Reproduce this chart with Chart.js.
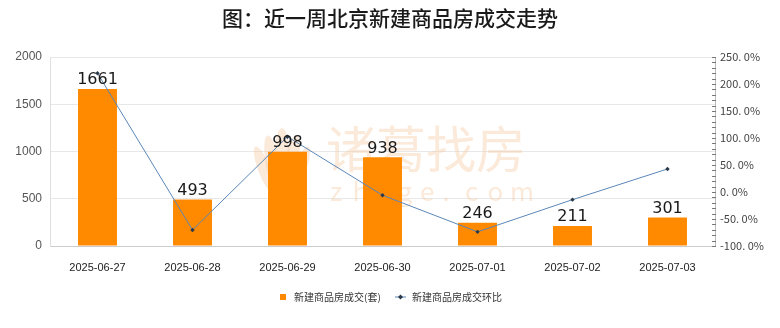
<!DOCTYPE html>
<html>
<head>
<meta charset="utf-8">
<script src="https://cdn.jsdelivr.net/npm/chart.js@4/dist/chart.umd.min.js"></script>
<style>
  html, body { margin: 0; padding: 0; background: #fff; }
  #wrap { width: 780px; height: 328px; }
</style>
</head>
<body>
<div id="wrap"><canvas id="chart" width="780" height="328"></canvas></div>
<script>
const titleText = '图：近一周北京新建商品房成交走势';
const dates = ['2025-06-27', '2025-06-28', '2025-06-29', '2025-06-30', '2025-07-01', '2025-07-02', '2025-07-03'];
const deals = [1661, 493, 998, 938, 246, 211, 301];
const ratio = [220.0, -70.3, 102.4, -6.0, -73.8, -14.2, 42.7];
const dealsLabel = '新建商品房成交(套)';
const ratioLabel = '新建商品房成交环比';

const cjk = '"Noto Sans CJK SC", sans-serif';
const narrow = '"Liberation Sans Narrow", "Liberation Sans", sans-serif';

// watermark, drawn under the bars
const watermark = {
    id: 'watermark',
    beforeDatasetsDraw(chart) {
        const c = chart.ctx;
        c.save();
        c.fillStyle = 'rgba(244, 200, 160, 0.4)';
        // lotus-like logo
        const lx = 282, ly = 165;
        [[-18, 4, 6, 24], [-9, 0, 7, 30], [0, -3, 8, 34], [9, 0, 7, 30], [18, 4, 6, 24]].forEach(p => {
            c.beginPath();
            c.ellipse(lx + p[0], ly + p[1], p[2], p[3], p[0] * 0.02, 0, Math.PI * 2);
            c.fill();
        });
        c.font = '50px ' + cjk;
        c.textAlign = 'left';
        c.textBaseline = 'middle';
        c.fillText('诸葛找房', 326, 149);
        c.font = '26px ' + cjk;
        const letters = 'zhuge.com';
        for (let i = 0; i < letters.length; i++) {
            c.fillText(letters[i], 330 + i * 22.5, 191);
        }
        c.restore();
    }
};

const extras = {
    id: 'extras',
    afterDraw(chart) {
        const c = chart.ctx;
        const y1 = chart.scales.y1;
        const bars = chart.getDatasetMeta(1);
        c.save();

        // title
        c.fillStyle = '#1a1a1a';
        c.font = '500 21px ' + cjk;
        c.textAlign = 'center';
        c.textBaseline = 'middle';
        c.fillText(titleText, 390, 18);

        // minor ticks on the right axis
        c.strokeStyle = '#777';
        c.lineWidth = 1;
        for (let v = -100; v <= 250; v += 10) {
            const py = Math.round(y1.getPixelForValue(v)) + 0.5;
            c.beginPath();
            c.moveTo(y1.left - 3, py);
            c.lineTo(y1.left + 1, py);
            c.stroke();
        }

        // bar value labels
        c.fillStyle = '#1a1a1a';
        c.font = '16px "DejaVu Sans", sans-serif';
        c.textAlign = 'center';
        c.textBaseline = 'bottom';
        bars.data.forEach((bar, i) => {
            c.fillText(String(deals[i]), bar.x, bar.y - 1);
        });

        // legend
        const ly = 297;
        c.fillStyle = '#ff8a00';
        c.fillRect(280, ly - 3, 6, 6);
        c.fillStyle = '#333';
        c.font = '10px ' + cjk;
        c.textAlign = 'left';
        c.textBaseline = 'middle';
        c.fillText(dealsLabel, 294, ly);
        c.strokeStyle = '#5b86b8';
        c.beginPath();
        c.moveTo(395, ly);
        c.lineTo(406, ly);
        c.stroke();
        c.fillStyle = '#2b3a4a';
        c.beginPath();
        c.moveTo(400.5, ly - 2.5);
        c.lineTo(403, ly);
        c.lineTo(400.5, ly + 2.5);
        c.lineTo(398, ly);
        c.closePath();
        c.fill();
        c.fillStyle = '#333';
        c.fillText(ratioLabel, 412, ly);

        c.restore();
    }
};

const ctx = document.getElementById('chart').getContext('2d');
const chart = new Chart(ctx, {
    data: {
        labels: dates,
        datasets: [
            {
                type: 'line',
                label: ratioLabel,
                data: ratio,
                yAxisID: 'y1',
                borderColor: '#5b86b8',
                borderWidth: 1,
                tension: 0,
                pointStyle: 'rectRot',
                pointRadius: 2.2,
                pointBackgroundColor: '#2b3a4a',
                pointBorderWidth: 0,
                order: 0
            },
            {
                type: 'bar',
                label: dealsLabel,
                data: deals,
                yAxisID: 'y',
                backgroundColor: '#ff8a00',
                categoryPercentage: 1,
                barPercentage: 0.41,
                order: 1
            }
        ]
    },
    options: {
        responsive: false,
        animation: false,
        layout: { padding: { top: 57, left: 0, right: 0, bottom: 52 } },
        plugins: {
            legend: { display: false },
            tooltip: { enabled: false },
            title: { display: false }
        },
        scales: {
            x: {
                grid: { display: false },
                border: { color: '#cccccc' },
                ticks: { color: '#222', font: { family: narrow, size: 11 }, padding: 7, maxRotation: 0 },
                afterFit: s => { s.height = 30; }
            },
            y: {
                position: 'left',
                min: 0,
                max: 2000,
                ticks: {
                    stepSize: 500,
                    color: '#555',
                    font: { family: narrow, size: 12 },
                    padding: 8,
                    callback: v => String(v)
                },
                grid: { color: '#e8e8e8', drawTicks: false },
                border: { color: '#e0e0e0' },
                afterFit: s => { s.width = 50; }
            },
            y1: {
                position: 'right',
                min: -100,
                max: 250,
                ticks: {
                    stepSize: 50,
                    color: '#444',
                    font: { family: cjk, size: 11 },
                    padding: 5,
                    callback: v => v.toFixed(1).replace('.', '. ') + '%'
                },
                grid: { drawOnChartArea: false, drawTicks: false },
                border: { color: '#bbbbbb' },
                afterFit: s => { s.width = 65; }
            }
        }
    },
    plugins: [watermark, extras]
});
</script>
</body>
</html>
